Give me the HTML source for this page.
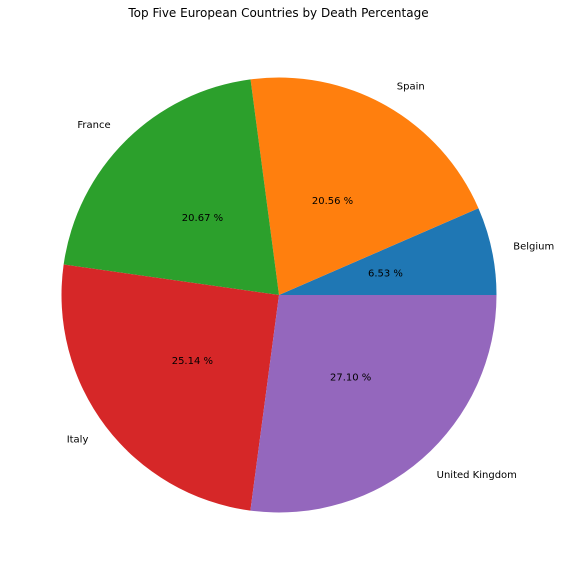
<!DOCTYPE html>
<html lang="en">
<head>
<meta charset="utf-8">
<title>Top Five European Countries by Death Percentage</title>
<style>
html,body{margin:0;padding:0;background:#fff;width:561px;height:574px;overflow:hidden}
svg{display:block;font-family:"DejaVu Sans","Liberation Sans",sans-serif}
text{fill:#000}
</style>
</head>
<body>
<svg id="chart" xmlns="http://www.w3.org/2000/svg" width="561" height="574" viewBox="0 0 561 574">
<rect width="561" height="574" fill="#ffffff"/>
<text x="278.5" y="17" font-size="12" text-anchor="middle">Top Five European Countries by Death Percentage</text>
</svg>
<script>
const categories = ['Belgium', 'Spain', 'France', 'Italy', 'United Kingdom'];
const values = [6.53, 20.56, 20.67, 25.14, 27.10];
const colors = ['#1f77b4', '#ff7f0e', '#2ca02c', '#d62728', '#9467bd'];

const svg = document.getElementById('chart');
const NS = 'http://www.w3.org/2000/svg';
const cx = 279, cy = 295, radius = 217.5;
const total = values.reduce(function (a, b) { return a + b; }, 0);

function angleOf(v) { return v / total * 2 * Math.PI; }
function px(a, r) { return cx + r * Math.cos(a); }
function py(a, r) { return cy - r * Math.sin(a); }
function slug(s) { return s.toLowerCase().replace(/\s+/g, '-'); }

let start = 0;
values.forEach(function (v, i) {
  const sweep = angleOf(v);
  const end = start + sweep;

  const slice = document.createElementNS(NS, 'path');
  slice.setAttribute('d', 'M' + cx + ' ' + cy + 'L' + px(start, radius) + ' ' + py(start, radius) +
    'A' + radius + ' ' + radius + ' 0 ' + (sweep > Math.PI ? 1 : 0) + ' 0 ' + px(end, radius) + ' ' + py(end, radius) + 'Z');
  slice.setAttribute('fill', colors[i % colors.length]);
  
  
  svg.appendChild(slice);

  start = end;
});

start = 0;
values.forEach(function (v, i) {
  const sweep = angleOf(v);
  const mid = start + sweep / 2;

  const label = document.createElementNS(NS, 'text');
  const lx = px(mid, radius * 1.1);
  label.setAttribute('x', lx);
  label.setAttribute('y', py(mid, radius * 1.1) + 3);
  label.setAttribute('font-size', '10');
  label.setAttribute('text-anchor', lx > cx ? 'start' : 'end');
  label.textContent = categories[i];
  
  
  svg.appendChild(label);

  const pct = document.createElementNS(NS, 'text');
  pct.setAttribute('x', px(mid, radius * 0.5));
  pct.setAttribute('y', py(mid, radius * 0.5) + 3.5);
  pct.setAttribute('font-size', '10');
  pct.setAttribute('text-anchor', 'middle');
  pct.textContent = (v / total * 100).toFixed(2) + ' %';
  
  
  svg.appendChild(pct);

  start += sweep;
});
</script>
</body>
</html>
